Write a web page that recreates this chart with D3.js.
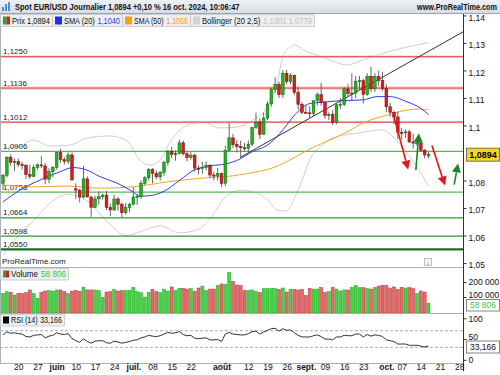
<!DOCTYPE html>
<html>
<head>
<meta charset="utf-8">
<script src="https://cdn.jsdelivr.net/npm/d3@7"></script>
<style>
  body { margin: 0; background: #fff; }
  svg { display: block; font-family: 'Liberation Sans', 'DejaVu Sans', sans-serif; }
</style>
</head>
<body>
<svg id="chart" width="500" height="375"></svg>
<script>
/* Data: EUR/USD daily, 14 May -> 16 Oct 2024 (one entry per trading day) */

const opens = [1.0790,1.0819,1.0885,1.0866,1.0870,1.0858,1.0855,1.0822,1.0815,1.0847,1.0857,1.0853,1.0805,1.0832,1.0848,1.0902,1.0876,1.0870,1.0893,1.0770,
  1.0765,1.0740,1.0806,1.0740,1.0702,1.0733,1.0741,1.0747,1.0702,1.0693,1.0733,1.0714,1.0683,1.0702,1.0713,1.0740,1.0742,1.0790,1.0810,1.0840,
  1.0826,1.0813,1.0830,1.0866,1.0907,1.0894,1.0898,1.0937,1.0897,1.0884,1.0892,1.0845,1.0844,1.0848,1.0855,1.0820,1.0816,1.0825,1.0790,1.0910,
  1.0955,1.0930,1.0923,1.0919,1.0917,1.0932,1.0993,1.1013,1.0968,1.1027,1.1078,1.1130,1.1150,1.1112,1.1190,1.1160,1.1183,1.1120,1.1077,1.1048,
  1.1046,1.1044,1.1090,1.1112,1.1083,1.1037,1.1040,1.1012,1.1075,1.1076,1.1133,1.1116,1.1118,1.1160,1.1163,1.1113,1.1179,1.1134,1.1178,1.1164,
  1.1134,1.1068,1.1048,1.1031,1.0975,1.0974,1.0977,1.0940,1.0936,1.0937,1.0910,1.0889];
const highs = [1.0824,1.0887,1.0895,1.0880,1.0880,1.0868,1.0861,1.0858,1.0858,1.0862,1.0889,1.0864,1.0845,1.0852,1.0904,1.0916,1.0886,1.0903,1.0902,1.0790,
  1.0770,1.0853,1.0815,1.0745,1.0745,1.0761,1.0752,1.0762,1.0716,1.0748,1.0740,1.0720,1.0718,1.0719,1.0776,1.0752,1.0800,1.0816,1.0845,1.0845,
  1.0837,1.0835,1.0872,1.0910,1.0922,1.0910,1.0948,1.0945,1.0907,1.0904,1.0898,1.0855,1.0868,1.0870,1.0860,1.0831,1.0846,1.0829,1.0926,1.1009,
  1.0970,1.0946,1.0945,1.0936,1.0945,1.0995,1.1047,1.1025,1.1047,1.1087,1.1138,1.1175,1.1160,1.1201,1.1202,1.1190,1.1185,1.1140,1.1085,1.1075,
  1.1070,1.1090,1.1120,1.1155,1.1090,1.1048,1.1055,1.1080,1.1100,1.1140,1.1150,1.1190,1.1180,1.1180,1.1170,1.1190,1.1214,1.1190,1.1200,1.1195,
  1.1150,1.1082,1.1055,1.1050,1.0990,1.0985,1.0985,1.0970,1.0950,1.0940,1.0915,1.0905];
const lows = [1.0766,1.0811,1.0853,1.0835,1.0850,1.0840,1.0806,1.0805,1.0812,1.0840,1.0845,1.0786,1.0790,1.0812,1.0840,1.0865,1.0858,1.0860,1.0800,1.0732,
  1.0720,1.0735,1.0740,1.0668,1.0701,1.0712,1.0730,1.0693,1.0670,1.0689,1.0690,1.0666,1.0676,1.0685,1.0710,1.0711,1.0732,1.0784,1.0800,1.0790,
  1.0805,1.0800,1.0817,1.0854,1.0882,1.0872,1.0894,1.0891,1.0870,1.0876,1.0833,1.0822,1.0825,1.0837,1.0808,1.0801,1.0800,1.0777,1.0780,1.0903,
  1.0918,1.0902,1.0881,1.0905,1.0904,1.0925,1.0987,1.0950,1.0966,1.1020,1.1068,1.1118,1.1100,1.1100,1.1150,1.1150,1.1110,1.1058,1.1040,1.1043,
  1.1026,1.1035,1.1073,1.1072,1.1025,1.1020,1.1002,1.1005,1.1060,1.1070,1.1105,1.1088,1.1100,1.1130,1.1080,1.1108,1.1122,1.1122,1.1144,1.1126,
  1.1048,1.1032,1.1005,1.0950,1.0951,1.0955,1.0936,1.0916,1.0926,1.0904,1.0880,1.0880];
const closes = [1.0819,1.0885,1.0866,1.0870,1.0858,1.0855,1.0822,1.0815,1.0847,1.0857,1.0853,1.0805,1.0832,1.0848,1.0902,1.0876,1.0870,1.0893,1.0802,1.0765,
  1.0740,1.0806,1.0740,1.0702,1.0733,1.0741,1.0747,1.0702,1.0693,1.0733,1.0714,1.0683,1.0702,1.0713,1.0740,1.0742,1.0790,1.0810,1.0840,1.0826,
  1.0813,1.0830,1.0866,1.0907,1.0894,1.0898,1.0937,1.0897,1.0884,1.0892,1.0845,1.0844,1.0848,1.0855,1.0820,1.0816,1.0825,1.0790,1.0910,1.0955,
  1.0930,1.0923,1.0919,1.0917,1.0932,1.0993,1.1013,1.0968,1.1027,1.1078,1.1130,1.1150,1.1112,1.1190,1.1160,1.1183,1.1120,1.1077,1.1048,1.1046,
  1.1044,1.1090,1.1112,1.1083,1.1037,1.1040,1.1012,1.1075,1.1076,1.1133,1.1116,1.1118,1.1160,1.1163,1.1113,1.1179,1.1134,1.1178,1.1164,1.1134,
  1.1068,1.1048,1.1031,1.0975,1.0974,1.0977,1.0940,1.0936,1.0937,1.0910,1.0893,1.0894];

// volume, thousands
const volumes = [124,135,131,113,124,124,129,147,124,91,131,140,144,140,147,147,136,122,140,144,
  138,166,147,147,147,142,98,133,136,151,140,142,142,144,164,136,129,100,131,151,
  136,129,153,140,167,144,156,158,153,156,138,160,173,142,153,153,176,187,184,264,
  204,180,176,142,144,147,136,129,156,156,156,156,151,160,133,151,151,147,150,109,
  158,153,153,164,129,136,164,153,140,147,147,164,178,162,162,156,153,164,173,178,
  176,160,167,151,164,160,162,156,124,140,133,58.806];

const rsi = [60,67,64,65,63,62,56,55,59,60,61,53,57,59,65,62,61,63,51,46,
  42,51,44,40,45,46,46,41,40,45,43,40,42,44,47,48,53,55,59,57,
  56,58,62,66,64,65,68,61,58,59,52,51,52,53,48,48,49,44,62,66,
  62,61,60,60,63,68,69,62,67,71,75,76,69,75,71,72,65,59,55,55,
  55,58,60,56,50,50,48,55,55,59,58,58,62,62,55,61,57,60,59,56,
  48,46,44,38,38,38,35,35,35,33,31,33.166];

// indicator lines: [day index, value]
const sma20 = [[0,1.0722],[4.4,1.0765],[9.7,1.0802],[14.9,1.0832],[18.3,1.0847],[21.9,1.0838],[25.3,1.0814],[29.7,1.0791],
  [33.9,1.0759],[35.7,1.0743],[38.4,1.0745],[41.7,1.0759],[46.2,1.0802],[49.6,1.0836],[54,1.0853],[58,1.0860],[61.8,1.0878],
  [64.4,1.0900],[69.7,1.0936],[73,1.0984],[76.2,1.1040],[80.1,1.1080],[83.5,1.1085],[87.9,1.1090],[93.9,1.1093],[97.6,1.1105],
  [101,1.1105],[105.4,1.1086],[108.8,1.1064],[111,1.1040]];
const sma50 = [[0,1.0784],[7.8,1.0777],[16.7,1.0780],[25.3,1.0772],[33.9,1.0777],[42.8,1.0795],[51.4,1.0808],[60,1.0817],
  [67,1.0834],[69,1.0840],[72.5,1.0858],[76.7,1.0889],[80.5,1.0918],[85.3,1.0947],[89.5,1.0975],[93.9,1.1009],[100.2,1.1038],
  [105.4,1.1056],[108.5,1.1060],[111,1.1056]];
const bbUpper = [[0,1.0918],[4.4,1.0925],[7.8,1.0947],[12.3,1.0925],[17.5,1.0929],[21.9,1.0954],[27.9,1.0962],[32.4,1.0944],
  [35.7,1.0874],[38.4,1.0856],[41,1.0874],[43.6,1.0940],[46.2,1.0984],[48.8,1.1005],[52.2,1.1013],[56.6,1.0991],[61,1.0994],
  [65.2,1.1020],[68.9,1.1067],[71.5,1.1154],[73,1.1249],[74.9,1.1285],[76.2,1.1293],[78.3,1.1274],[81.9,1.1256],[85.3,1.1238],
  [89.7,1.1220],[93.9,1.1238],[100.2,1.1267],[105.4,1.1285],[111,1.1301]];
const bbLower = [[0,1.0530],[4,1.0600],[8,1.0655],[12,1.0715],[17,1.0750],[22,1.0725],[28,1.0640],[32,1.0600],[36,1.0615],
  [41,1.0635],[46,1.0610],[50.6,1.0620],[55,1.0680],[58,1.0740],[62,1.0765],[65,1.0760],[69,1.0730],[72,1.0690],[74,1.0690],
  [76,1.0735],[78,1.0800],[80,1.0875],[83,1.0925],[86,1.0955],[94,1.0975],[99,1.0985],[102,1.0955],[105,1.0905],[108,1.0850],
  [111,1.0779]];

// support / resistance levels
const resistances = [1.1250, 1.1136, 1.1012];
const supports = [1.0906, 1.0758, 1.0664, 1.0598];
const majorSupport = 1.0550;

// trend line anchors [day index, price]
const trendLine = [[62, 1.0885], [108, 1.1246]];

// arrows [from, to] in [day index, price]
const redArrows = [[[102, 1.1031], [105.7, 1.0840]], [[111.9, 1.0927], [115.3, 1.0782]]];
const greenArrows = [[[107.7, 1.0838], [108.5, 1.0972]], [[117.7, 1.0785], [118.7, 1.0862]]];

const priceTicks = [1.14, 1.13, 1.12, 1.11, 1.10, 1.08, 1.07, 1.06, 1.05];
const dateTicks = ['2024-05-20','2024-05-27','2024-06-03','2024-06-10','2024-06-17','2024-06-24','2024-07-01','2024-07-08',
  '2024-07-15','2024-07-22','2024-08-01','2024-08-12','2024-08-19','2024-08-26','2024-09-02','2024-09-09','2024-09-16',
  '2024-09-23','2024-10-01','2024-10-07','2024-10-14','2024-10-21','2024-10-28'];
const dateLabels = ['20','27','juin','10','17','24','juil.','08','15','22','août','12','19','26','sept.','09','16','23','oct.','07','14','21','28'];
const monthLabels = ['juin','juil.','août','sept.','oct.'];

/* Setup */

const svg = d3.select('#chart');
const plotRight = 463;
const priceTop = 14, priceBottom = 267, volBottom = 313, rsiBottom = 363;

const days = d3.utcDay.range(new Date(Date.UTC(2024, 4, 14)), new Date(Date.UTC(2024, 10, 1)))
  .filter(d => d.getUTCDay() % 6 !== 0);
const fmtDay = d3.utcFormat('%Y-%m-%d');
const dayIndex = s => days.findIndex(d => fmtDay(d) === s);

const x = d3.scaleLinear().domain([0, 120]).range([3, plotRight]);
const y = d3.scaleLinear().domain([1.055, 1.125]).range([249.3, 56.7]);
const yVol = d3.scaleLinear().domain([0, 200]).range([312, 282]);
const yRsi = d3.scaleLinear().domain([0, 100]).range([359.8, 318.3]);

const comma = v => String(v).replace('.', ',');
const fr = d3.formatLocale({ decimal: ',', thousands: ' ', grouping: [3], currency: ['', ''] });

const defs = svg.append('defs');
const clip = (id, y0, y1) => defs.append('clipPath').attr('id', id)
  .append('rect').attr('x', 0).attr('y', y0).attr('width', plotRight).attr('height', y1 - y0);
clip('clipPrice', priceTop, priceBottom);
clip('clipVol', priceBottom, volBottom);
clip('clipRsi', volBottom, rsiBottom);

const grad = defs.append('linearGradient').attr('id', 'hdr').attr('x1', 0).attr('x2', 0).attr('y1', 0).attr('y2', 1);
grad.append('stop').attr('offset', 0).attr('stop-color', '#eef1f4');
grad.append('stop').attr('offset', 1).attr('stop-color', '#d6dce3');

/* Price panel */

const price = svg.append('g').attr('clip-path', 'url(#clipPrice)');

const line = d3.line().x(d => x(d[0])).y(d => y(d[1])).curve(d3.curveMonotoneX);

price.append('path').datum(bbUpper).attr('d', line).attr('fill', 'none').attr('stroke', '#cfcfcf').attr('stroke-width', 1);
price.append('path').datum(bbLower).attr('d', line).attr('fill', 'none').attr('stroke', '#cfcfcf').attr('stroke-width', 1);

resistances.forEach((v, i) => {
  price.append('line').attr('x1', 0).attr('x2', plotRight).attr('y1', y(v)).attr('y2', y(v))
    .attr('stroke', '#f8c4c4').attr('stroke-width', i === 1 ? 3.2 : 2.2);
  price.append('line').attr('x1', 0).attr('x2', plotRight).attr('y1', y(v)).attr('y2', y(v))
    .attr('stroke', '#e2474a').attr('stroke-width', 1);
});
supports.forEach((v, i) => {
  price.append('line').attr('x1', 0).attr('x2', plotRight).attr('y1', y(v)).attr('y2', y(v))
    .attr('stroke', i < 2 ? '#58b558' : '#2f9a2f').attr('stroke-width', 1.3);
});
price.append('line').attr('x1', 0).attr('x2', plotRight).attr('y1', y(majorSupport)).attr('y2', y(majorSupport))
  .attr('stroke', '#1d6b28').attr('stroke-width', 2.2);

[...resistances, ...supports, majorSupport].forEach(v => {
  price.append('text').attr('x', 3).attr('y', y(v) - 2.5).attr('font-size', 8).attr('fill', '#222')
    .text(comma(v.toFixed(4)));
});

price.append('path').datum(sma50).attr('d', line).attr('fill', 'none').attr('stroke', '#f5a623').attr('stroke-width', 1);
price.append('path').datum(sma20).attr('d', line).attr('fill', 'none').attr('stroke', '#2b3ff2').attr('stroke-width', 1);

// trend line, extended to the right edge
const [t0, t1] = trendLine;
const slope = (t1[1] - t0[1]) / (t1[0] - t0[0]);
const tEnd = 120;
price.append('line')
  .attr('x1', x(t0[0])).attr('y1', y(t0[1]))
  .attr('x2', x(tEnd)).attr('y2', y(t0[1] + slope * (tEnd - t0[0])))
  .attr('stroke', '#333').attr('stroke-width', 1);

// candles
const idx = d3.range(closes.length);
const bull = i => closes[i] >= opens[i];
const bw = 2.7;
const candles = price.append('g');
candles.selectAll('line').data(idx).join('line')
  .attr('x1', i => x(i)).attr('x2', i => x(i))
  .attr('y1', i => y(highs[i])).attr('y2', i => y(lows[i]))
  .attr('stroke', '#555').attr('stroke-width', 0.9);
candles.selectAll('rect').data(idx).join('rect')
  .attr('x', i => x(i) - bw / 2).attr('width', bw)
  .attr('y', i => y(Math.max(opens[i], closes[i])))
  .attr('height', i => Math.max(1, Math.abs(y(opens[i]) - y(closes[i]))))
  .attr('fill', i => bull(i) ? '#1fb51f' : '#e2191b')
  .attr('stroke', i => bull(i) ? '#0d5f0d' : '#6e0b0b').attr('stroke-width', 0.5);

// arrows
const arrow = (g, [a, b], color) => {
  const x0 = x(a[0]), y0 = y(a[1]), x1 = x(b[0]), y1 = y(b[1]);
  const ang = Math.atan2(y1 - y0, x1 - x0);
  const hl = 9, hw = 4.5;
  const bx = x1 - hl * Math.cos(ang), by = y1 - hl * Math.sin(ang);
  g.append('line').attr('x1', x0).attr('y1', y0).attr('x2', bx).attr('y2', by)
    .attr('stroke', color).attr('stroke-width', 1.6);
  const px = -Math.sin(ang) * hw, py = Math.cos(ang) * hw;
  g.append('path').attr('d', `M${x1},${y1}L${bx + px},${by + py}L${bx - px},${by - py}Z`).attr('fill', color);
};
const arrows = svg.append('g');
redArrows.forEach(a => arrow(arrows, a, '#e8141a'));
greenArrows.forEach(a => arrow(arrows, a, '#15892a'));

/* Volume panel */

const vol = svg.append('g').attr('clip-path', 'url(#clipVol)');
vol.selectAll('rect').data(idx).join('rect')
  .attr('x', i => x(i) - 1.5).attr('width', 3)
  .attr('y', i => yVol(volumes[i])).attr('height', i => yVol(0) - yVol(volumes[i]) + 1)
  .attr('fill', i => bull(i) ? '#47d347' : '#e46a6a')
  .attr('stroke', i => bull(i) ? '#27a127' : '#b83333').attr('stroke-width', 0.5);

/* RSI panel */

const rsiG = svg.append('g').attr('clip-path', 'url(#clipRsi)');
[70, 30].forEach(v => rsiG.append('line').attr('x1', 0).attr('x2', plotRight).attr('y1', yRsi(v)).attr('y2', yRsi(v))
  .attr('stroke', '#aaa').attr('stroke-dasharray', '3,2'));
rsiG.append('path').datum(rsi)
  .attr('d', d3.line().x((d, i) => x(i)).y(d => yRsi(d)))
  .attr('fill', 'none').attr('stroke', '#333').attr('stroke-width', 1);

/* Frames */

[priceBottom, volBottom, rsiBottom].forEach(yy => svg.append('line')
  .attr('x1', 0).attr('x2', plotRight).attr('y1', yy + 0.5).attr('y2', yy + 0.5).attr('stroke', '#a9b0b8'));
svg.append('line').attr('x1', 0.5).attr('x2', 0.5).attr('y1', priceTop).attr('y2', rsiBottom).attr('stroke', '#a9b0b8');
svg.append('line').attr('x1', plotRight + 0.5).attr('x2', plotRight + 0.5).attr('y1', priceTop).attr('y2', rsiBottom + 8)
  .attr('stroke', '#333');

/* Axes */

const priceAxis = svg.append('g').attr('transform', `translate(${plotRight + 0.5},0)`)
  .call(d3.axisRight(y).tickValues(priceTicks).tickSize(3).tickPadding(2).tickFormat(d => comma(+d.toFixed(2))));
const volAxis = svg.append('g').attr('transform', `translate(${plotRight + 0.5},0)`)
  .call(d3.axisRight(yVol).tickValues([200, 100]).tickSize(3).tickPadding(2).tickFormat(d => fr.format(',')(d * 1000)));
const rsiAxis = svg.append('g').attr('transform', `translate(${plotRight + 0.5},0)`)
  .call(d3.axisRight(yRsi).tickValues([100, 50, 0]).tickSize(3).tickPadding(2));
[priceAxis, volAxis, rsiAxis].forEach(a => {
  a.select('.domain').remove();
  a.selectAll('line').attr('stroke', '#333');
  a.selectAll('text').attr('font-size', 8.5).attr('fill', '#111')
    .attr('font-family', "'Liberation Sans', sans-serif");
});
priceAxis.selectAll('text').attr('dy', '0.55em');
volAxis.selectAll('text').attr('dy', d => d === 100 ? '0.1em' : '0.32em');
rsiAxis.selectAll('text').attr('dy', d => d === 50 ? '0.1em' : '0.32em');

const dateAxis = svg.append('g').attr('transform', `translate(0,${rsiBottom})`)
  .call(d3.axisBottom(x).tickValues(dateTicks.map(dayIndex)).tickSize(0).tickPadding(1)
    .tickFormat((d, i) => dateLabels[i]));
dateAxis.select('.domain').remove();
dateAxis.selectAll('text').attr('font-size', 8.5).attr('fill', '#111')
  .attr('font-weight', (d, i) => monthLabels.includes(dateLabels[i]) ? 'bold' : 'normal');

/* Value tags on the right */

const tag = (yy, txt, bg, fg) => {
  svg.append('rect').attr('x', 466.5).attr('y', yy - 6.5).attr('width', 33).attr('height', 13)
    .attr('fill', bg).attr('stroke', '#555').attr('stroke-width', 0.8);
  svg.append('text').attr('x', 483).attr('y', yy + 3.5).attr('text-anchor', 'middle')
    .attr('font-size', 9).attr('font-weight', 'bold').attr('fill', fg).text(txt);
};
tag(y(closes[closes.length - 1]), comma(closes[closes.length - 1].toFixed(4)), '#f7d51d', '#000');
svg.append('rect').attr('x', 466.5).attr('y', 299.5).attr('width', 33).attr('height', 11.5)
  .attr('fill', '#fff').attr('stroke', '#666').attr('stroke-width', 0.8);
svg.append('text').attr('x', 483).attr('y', 308.3).attr('text-anchor', 'middle').attr('font-size', 8.5)
  .attr('fill', '#3fc43f').text(fr.format(',')(Math.round(volumes[volumes.length - 1] * 1000)));
svg.append('rect').attr('x', 466.5).attr('y', 341).attr('width', 33).attr('height', 12)
  .attr('fill', '#fff').attr('stroke', '#666').attr('stroke-width', 0.8);
svg.append('text').attr('x', 483).attr('y', 350).attr('text-anchor', 'middle').attr('font-size', 8.5)
  .attr('fill', '#111').text(comma(rsi[rsi.length - 1].toFixed(3)));

/* Header */

// squeeze a row of coloured text parts horizontally into [x0, x0 + width]
const squeezed = (x0, yb, width, parts, size = 8.5, weight = 'normal') => {
  const g = svg.append('g');
  const els = parts.map(([s, c]) => g.append('text').attr('y', yb).attr('font-size', size)
    .attr('font-weight', weight).attr('fill', c).text(s));
  const gap = 3;
  let xx = 0;
  els.forEach(e => { e.attr('x', xx); xx += e.node().getComputedTextLength() + gap; });
  const k = width / (xx - gap);
  g.attr('transform', `translate(${x0},0) scale(${k},1)`);
};

svg.append('rect').attr('x', 0).attr('y', 0).attr('width', 500).attr('height', 13.5).attr('fill', 'url(#hdr)');
svg.append('line').attr('x1', 0).attr('x2', 500).attr('y1', 13.5).attr('y2', 13.5).attr('stroke', '#9aa5b1');
[[2, 6, 4], [5, 3, 7], [8, 1, 9]].forEach(([bx, by, bh]) => svg.append('rect')
  .attr('x', bx).attr('y', by + 1).attr('width', 2).attr('height', bh).attr('fill', '#4a8fd8'));
squeezed(15, 10, 225, [['Spot EUR/USD Journalier 1,0894 +0,10 % 16 oct. 2024, 10:06:47', '#111']], 9.5, 'bold');
squeezed(417, 10.5, 80, [['www.ProRealTime.com', '#111']], 9, 'bold');

// legend boxes
const legend = [
  { x0: 0, x1: 52, parts: [['Prix 1,0894', '#111']], icon: 'prix' },
  { x0: 52, x1: 122, parts: [['SMA (20)', '#111'], ['1,1040', '#2b3ff2']], icon: '#1f2ff0' },
  { x0: 122, x1: 190, parts: [['SMA (50)', '#111'], ['1,1056', '#f5a623']], icon: '#f7a21b' },
  { x0: 190, x1: 314, parts: [['Bollinger (20 2,5)', '#111'], ['1,1301 1,0779', '#c4c4c4']], icon: '#d4d4d4' }
];
legend.forEach(l => {
  svg.append('rect').attr('x', l.x0 + 0.5).attr('y', 14.5).attr('width', l.x1 - l.x0).attr('height', 12)
    .attr('fill', '#eceef0').attr('stroke', '#c2c7cd').attr('stroke-width', 0.8);
  if (l.icon === 'prix') {
    svg.append('rect').attr('x', 3).attr('y', 16.5).attr('width', 3.5).attr('height', 8).attr('fill', '#2aa82a');
    svg.append('rect').attr('x', 6.5).attr('y', 16.5).attr('width', 3.5).attr('height', 8).attr('fill', '#d42020');
  } else {
    svg.append('rect').attr('x', l.x0 + 3).attr('y', 16.5).attr('width', 7).attr('height', 8).attr('fill', l.icon);
  }
  squeezed(l.x0 + 12, 23.7, l.x1 - l.x0 - 14, l.parts);
});

// sub-panel legends
svg.append('text').attr('x', 2).attr('y', 264).attr('font-size', 8).attr('fill', '#222').text('ProRealTime.com');
svg.append('rect').attr('x', 424.5).attr('y', 258.5).attr('width', 7).attr('height', 7)
  .attr('fill', '#f4f4f4').attr('stroke', '#aaa').attr('stroke-width', 0.7);
svg.append('text').attr('x', 428).attr('y', 264.5).attr('text-anchor', 'middle').attr('font-size', 6).attr('fill', '#555').text('↓');

const subLegend = (y0, w, label, value, valueColor, icon) => {
  svg.append('rect').attr('x', 0.5).attr('y', y0 + 0.5).attr('width', w).attr('height', 11.5)
    .attr('fill', '#eceef0').attr('stroke', '#c2c7cd').attr('stroke-width', 0.8);
  icon(y0);
  squeezed(11, y0 + 9.5, w - 13, [[label, '#111'], [value, valueColor]]);
};
subLegend(268, 68, 'Volume', fr.format(',')(Math.round(volumes[volumes.length - 1] * 1000)), '#3fc43f', y0 => {
  svg.append('rect').attr('x', 3).attr('y', y0 + 2.5).attr('width', 3).attr('height', 7).attr('fill', '#2aa82a');
  svg.append('rect').attr('x', 6).attr('y', y0 + 2.5).attr('width', 3).attr('height', 7).attr('fill', '#d42020');
});
subLegend(314, 64, 'RSI (14)', comma(rsi[rsi.length - 1].toFixed(3)), '#111', y0 => {
  svg.append('rect').attr('x', 3).attr('y', y0 + 2.5).attr('width', 6).attr('height', 7).attr('fill', '#000');
});
</script>
</body>
</html>
